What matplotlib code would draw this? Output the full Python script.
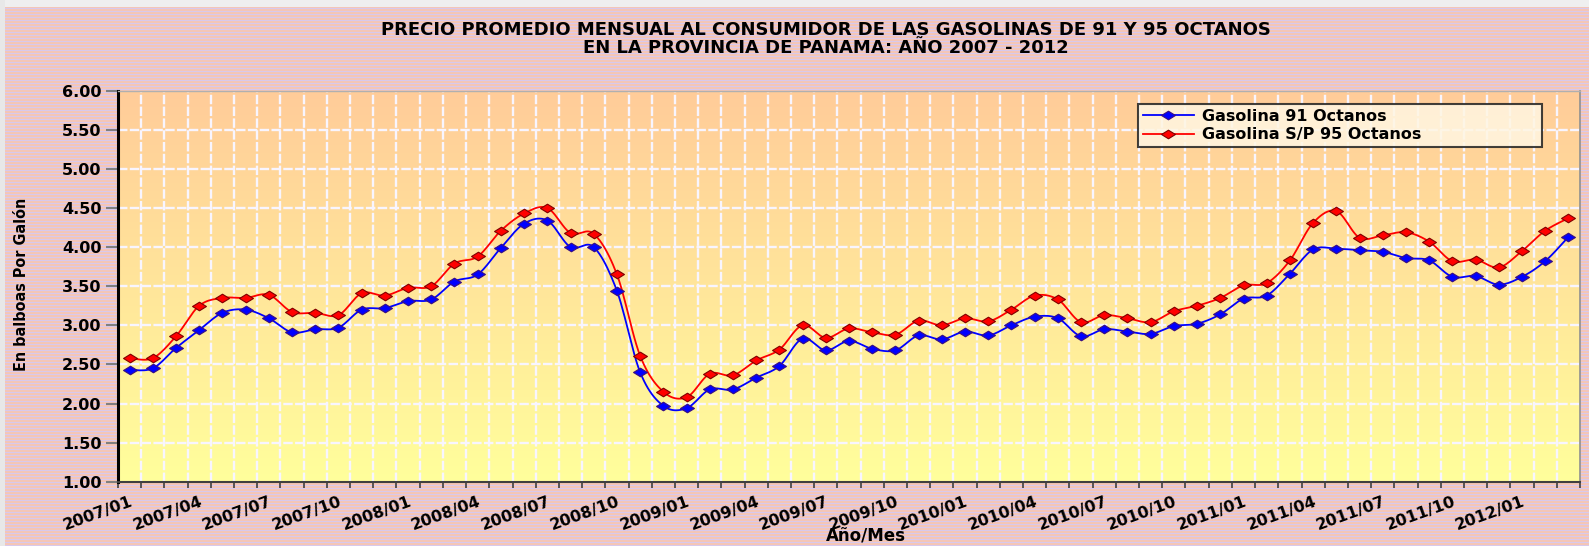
import numpy as np
import matplotlib
matplotlib.use("Agg")
import matplotlib.pyplot as plt
from matplotlib import font_manager
from matplotlib.font_manager import FontProperties
from matplotlib.path import Path
from matplotlib.ticker import FixedLocator, NullFormatter

# ---------------- data ----------------
title_line1 = "PRECIO PROMEDIO MENSUAL AL CONSUMIDOR DE LAS GASOLINAS DE 91 Y 95 OCTANOS"
title_line2 = "EN LA PROVINCIA DE PANAMA: AÑO 2007 - 2012"
series_names = ["Gasolina 91 Octanos", "Gasolina S/P 95 Octanos"]

gas91 = [2.43, 2.45, 2.71, 2.94, 3.16, 3.20, 3.09, 2.91, 2.95, 2.97,
         3.20, 3.22, 3.31, 3.33, 3.56, 3.65, 3.99, 4.30, 4.34, 4.00,
         4.00, 3.44, 2.40, 1.97, 1.94, 2.18, 2.18, 2.33, 2.48, 2.83,
         2.68, 2.80, 2.70, 2.68, 2.87, 2.82, 2.92, 2.87, 3.00, 3.11,
         3.09, 2.86, 2.95, 2.92, 2.89, 2.99, 3.02, 3.14, 3.34, 3.38,
         3.66, 3.97, 3.98, 3.96, 3.94, 3.86, 3.83, 3.62, 3.63, 3.52,
         3.62, 3.82, 4.13]
gas95 = [2.58, 2.58, 2.86, 3.25, 3.35, 3.35, 3.39, 3.17, 3.16, 3.13,
         3.41, 3.38, 3.48, 3.50, 3.79, 3.88, 4.21, 4.43, 4.50, 4.18,
         4.17, 3.65, 2.61, 2.15, 2.08, 2.38, 2.36, 2.55, 2.69, 3.00,
         2.84, 2.96, 2.91, 2.88, 3.06, 3.00, 3.09, 3.05, 3.20, 3.38,
         3.33, 3.04, 3.13, 3.09, 3.04, 3.18, 3.25, 3.35, 3.51, 3.54,
         3.83, 4.31, 4.46, 4.12, 4.15, 4.19, 4.07, 3.82, 3.84, 3.74,
         3.95, 4.21, 4.37]
tick_labels = ["2007/01", "2007/04", "2007/07", "2007/10",
               "2008/01", "2008/04", "2008/07", "2008/10",
               "2009/01", "2009/04", "2009/07", "2009/10",
               "2010/01", "2010/04", "2010/07", "2010/10",
               "2011/01", "2011/04", "2011/07", "2011/10",
               "2012/01"]
label_step = 3
y_ticks = [1.00, 1.50, 2.00, 2.50, 3.00, 3.50, 4.00, 4.50, 5.00, 5.50, 6.00]

# ---------------- fonts ----------------
avail = {f.name for f in font_manager.fontManager.ttflist}
plt.rcParams['font.family'] = ['DejaVu Sans']
if "Liberation Sans Narrow" in avail:
    ylab_fp = FontProperties(family="Liberation Sans Narrow", weight='bold', size=13)
else:
    ylab_fp = FontProperties(family="DejaVu Sans", stretch='condensed', weight='bold', size=11.5)

W, H, DPI = 1589, 546, 100
fig = plt.figure(figsize=(W / DPI, H / DPI), dpi=DPI)

# background stripes
bg = fig.add_axes([0, 0, 1, 1], zorder=-10)
peach = np.array([0.96, 0.78, 0.72])
lav = np.array([0.85, 0.79, 0.93])
img = np.zeros((H, W, 3))
for r in range(H):
    img[r, :, :] = peach if (r % 3) < 2 else lav
img[:7, :, :] = [0.94, 0.94, 0.94]
img[:, :5, :] = [0.91, 0.91, 0.91]
bg.imshow(img, aspect='auto', interpolation='nearest', extent=[0, 1, 0, 1])
bg.set_axis_off()

L, R, T, B = 118, 1580, 90.7, 481.7
ax = fig.add_axes([L / W, 1 - B / H, (R - L) / W, (B - T) / H])

n = len(gas91)
x = np.arange(n)
ax.set_xlim(-0.5, n - 0.5)
ax.set_ylim(1.0, 6.0)

# gradient fill of plot area
top_c = np.array([1.0, 0.80, 0.60])
bot_c = np.array([1.0, 1.0, 0.61])
t = np.linspace(0, 1, 256)[:, None]
grad = (top_c[None, :] * (1 - t) + bot_c[None, :] * t)[:, None, :]
ax.imshow(grad, aspect='auto', extent=[-0.5, n - 0.5, 1.0, 6.0], zorder=0,
          interpolation='bilinear')

# gridlines
for yv in y_ticks[1:-1]:
    ax.axhline(yv, color='#F8F5FF', lw=1.7, ls=(0, (4, 1)), zorder=1)
for k in range(n - 1):
    ax.axvline(k + 0.5, color='#F8F5FF', lw=1.7, ls=(0, (4, 1)), zorder=1)


def smooth(xs, ys, m=12):
    xs = np.asarray(xs, float)
    ys = np.asarray(ys, float)
    P = np.column_stack([xs, ys])
    out = [P[0]]
    tt = np.linspace(0, 1, m + 1)[1:]
    for i in range(len(P) - 1):
        p0 = P[i - 1] if i > 0 else P[i]
        p1, p2 = P[i], P[i + 1]
        p3 = P[i + 2] if i + 2 < len(P) else P[i + 1]
        c1 = p1 + (p2 - p0) / 6.0
        c2 = p2 - (p3 - p1) / 6.0
        for s in tt:
            pt = ((1 - s) ** 3) * p1 + 3 * ((1 - s) ** 2) * s * c1 + 3 * (1 - s) * s * s * c2 + s ** 3 * p2
            out.append(pt)
    out = np.array(out)
    return out[:, 0], out[:, 1]


diamond = Path([(-1, 0), (0, 0.62), (1, 0), (0, -0.62), (-1, 0)],
               [Path.MOVETO, Path.LINETO, Path.LINETO, Path.LINETO, Path.CLOSEPOLY])

styles = [dict(color='#0000FF', mfc='#0000FF', mec='#3A1080'),
          dict(color='#FF0000', mfc='#FF0000', mec='#800000')]
for vals, name, st in zip([gas91, gas95], series_names, styles):
    sx, sy = smooth(x, vals)
    ax.plot(sx, sy, color=st['color'], lw=1.3, zorder=3)
    ax.plot(x, vals, ls='none', marker=diamond, ms=10, mfc=st['mfc'],
            mec=st['mec'], mew=0.8, zorder=4)
    # legend proxy
    ax.plot([], [], color=st['color'], lw=1.3, marker=diamond, ms=10,
            mfc=st['mfc'], mec=st['mec'], mew=0.8, label=name)

# axes styling
ax.set_yticks(y_ticks)
ax.set_yticklabels([f"{v:.2f}" for v in y_ticks], fontsize=11.5, fontweight='bold')
ax.tick_params(axis='y', direction='out', length=9, width=1.5, color='#808080', pad=3)

ax.set_xticks(x[::label_step])
ax.set_xticklabels(tick_labels, fontsize=11.5, fontweight='bold', rotation=20,
                   ha='right', va='top', rotation_mode='anchor')
ax.tick_params(axis='x', which='major', length=0, pad=9)
ax.xaxis.set_minor_locator(FixedLocator(np.arange(-0.5, n, 1.0)))
ax.xaxis.set_minor_formatter(NullFormatter())
ax.tick_params(axis='x', which='minor', direction='out', length=4, width=1.2, color='#404040')

ax.spines['left'].set_color('black')
ax.spines['left'].set_linewidth(2.2)
ax.spines['bottom'].set_color('#404040')
ax.spines['bottom'].set_linewidth(1.5)
ax.spines['right'].set_color('#909090')
ax.spines['right'].set_linewidth(1.2)
ax.spines['top'].set_color('#B0B0B0')
ax.spines['top'].set_linewidth(1.0)
for sp in ax.spines.values():
    sp.set_zorder(5)

leg = ax.legend(loc='upper left', bbox_to_anchor=(0.6977, 0.0, 0.2763, 0.966),
                mode='expand', borderaxespad=0.0, frameon=True, fancybox=False,
                framealpha=0.85, edgecolor='#202020', facecolor='#FFF6E2',
                borderpad=0.3, labelspacing=0.22, handlelength=3.2, handletextpad=0.5,
                prop=dict(weight='bold', size=11.5))
leg.get_frame().set_linewidth(1.5)
leg.set_zorder(6)

fig.text(826 / W, 1 - 35 / H, title_line1, ha='center', va='baseline',
         fontsize=13, fontweight='bold')
fig.text(826 / W, 1 - 53 / H, title_line2, ha='center', va='baseline',
         fontsize=13, fontweight='bold')
fig.text(22 / W, 1 - 284 / H, "En balboas Por Galón", rotation=90, ha='center',
         va='center', fontproperties=ylab_fp)
fig.text(866 / W, 1 - 536 / H, "Año/Mes", ha='center', va='center',
         fontsize=12, fontweight='bold')

fig.savefig("out.png", dpi=DPI)
